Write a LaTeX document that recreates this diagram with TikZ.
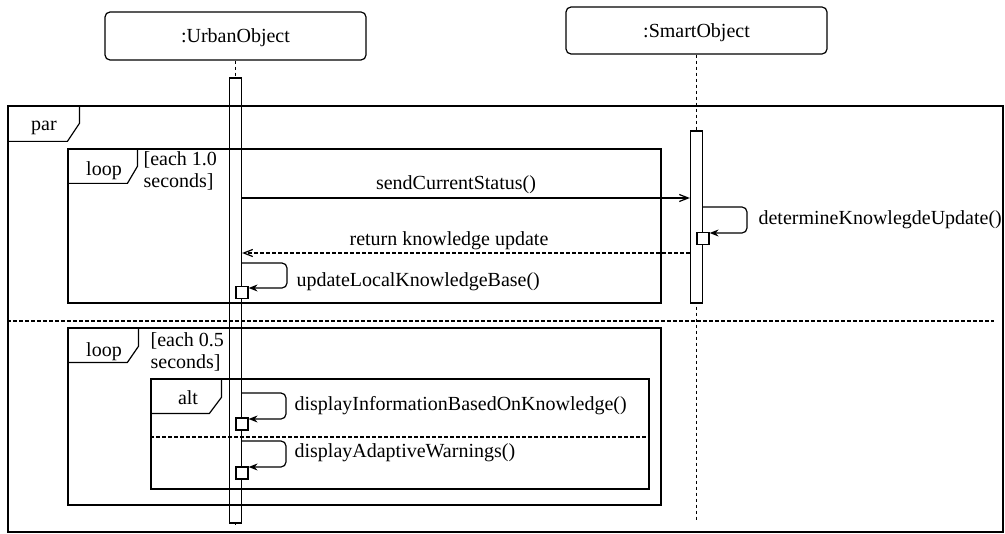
\documentclass[tikz,border=0pt]{standalone}
\usepackage{fontspec}
\setmainfont{Liberation Serif}
\usetikzlibrary{arrows.meta}

\begin{document}
\begin{tikzpicture}[x=0.5pt,y=-0.5pt,line width=0.6pt,
    font=\fontsize{10}{11}\selectfont,
    lifehead/.style={draw,rounded corners=2.5pt,minimum width=130.5pt,minimum height=24pt,inner sep=0pt,text depth=0pt},
    lifeline/.style={dash pattern=on 1.75pt off 1.25pt},
    actbar/.style={draw,fill=white,minimum width=6pt,inner sep=0pt},
    execbox/.style={draw,fill=white,minimum size=6pt,inner sep=0pt},
    fragbox/.style={draw,inner sep=0pt},
    lbl/.style={inner sep=0pt},
    msg/.style={-{Straight Barb[length=4.5pt,width=3.5pt]}},
    retmsg/.style={msg,dash pattern=on 1.75pt off 1.25pt},
    selfmsg/.style={rounded corners=2.5pt,-{Stealth[length=4.5pt,width=3.5pt,inset=1.5pt]}}]
        \useasboundingbox (0,0) rectangle (1005,534);

        % objects and lifelines
        \node[lifehead] (uo) at (235.5,36) {:UrbanObject};
        \node[lifehead,minimum height=23.5pt] (so) at (696.5,30.5) {:SmartObject};
        \draw[lifeline] (uo.south) -- (uo.south |- 0,525);
        \draw[lifeline] (so.south) -- (so.south |- 0,520);
        \node[actbar,minimum height=222.5pt] (uobar) at (235.5,300.5) {};
        \node[actbar,minimum height=86pt] (sobar) at (696.5,217) {};

        % combined fragments
        \node[fragbox,minimum width=497.5pt,minimum height=213pt] (par) at (505.5,319) {};
        \draw (par.north west) ++(72,0) -- ++(0,18) -- ++(-12,18) -- ++(-60,0);
        \node[lbl,anchor=base] (parlbl) at (44,131) {par};
        \draw[lifeline] (par.west |- 0,321) -- (994,321);

        \node[fragbox,minimum width=296.5pt,minimum height=77pt] (loopA) at (364.5,226) {};
        \draw (loopA.north west) ++(70,0) -- ++(0,18) -- ++(-10,17) -- ++(-60,0);
        \node[lbl,anchor=base] (loopAlbl) at (104,176) {loop};
        \node[lbl,anchor=north west,align=left] (loopAguard) at (143,151) {[each 1.0\\seconds]};

        \node[fragbox,minimum width=296.5pt,minimum height=88.5pt] (loopB) at (364.5,416.5) {};
        \draw (loopB.north west) ++(71,0) -- ++(0,19) -- ++(-11,16) -- ++(-60,0);
        \node[lbl,anchor=base] (loopBlbl) at (104,356) {loop};
        \node[lbl,anchor=north west,align=left] (loopBguard) at (150,332) {[each 0.5\\seconds]};

        \node[fragbox,minimum width=249pt,minimum height=55pt] (alt) at (400,434) {};
        \draw (alt.north west) ++(71,0) -- ++(0,19) -- ++(-12,16) -- ++(-59,0);
        \node[lbl,anchor=base] (altlbl) at (188,404) {alt};
        \draw[lifeline] (alt.west |- 0,437) -- (alt.east |- 0,437);

        % messages
        \draw[msg] (uobar.east |- 0,198) -- (sobar.west |- 0,198);
        \node[lbl,anchor=base] (sendlbl) at (456,190) {sendCurrentStatus()};

        \node[execbox] (soexec) at (703,238.5) {};
        \draw[selfmsg] (sobar.east |- 0,207) -- (747,207) -- (747,233) -- (soexec.east |- 0,233);
        \node[lbl,anchor=base west] (detlbl) at (758,225) {determineKnowlegdeUpdate()};

        \draw[retmsg] (sobar.west |- 0,253) -- (uobar.east |- 0,253);
        \node[lbl,anchor=base] (retlbl) at (449,245) {return knowledge update};

        \node[execbox] (uoexecA) at (242,292.5) {};
        \draw[selfmsg] (uobar.east |- 0,263) -- (287,263) -- (287,288) -- (uoexecA.east |- 0,288);
        \node[lbl,anchor=base west] (updlbl) at (296,286) {updateLocalKnowledgeBase()};

        \node[execbox] (uoexecB) at (242,424) {};
        \draw[selfmsg] (uobar.east |- 0,393) -- (286,393) -- (286,419) -- (uoexecB.east |- 0,419);
        \node[lbl,anchor=base west] (infolbl) at (294,410) {displayInformationBasedOnKnowledge()};

        \node[execbox] (uoexecC) at (242,473) {};
        \draw[selfmsg] (uobar.east |- 0,441) -- (286,441) -- (286,467) -- (uoexecC.east |- 0,467);
        \node[lbl,anchor=base west] (warnlbl) at (294,457) {displayAdaptiveWarnings()};
      \end{tikzpicture}
\end{document}
